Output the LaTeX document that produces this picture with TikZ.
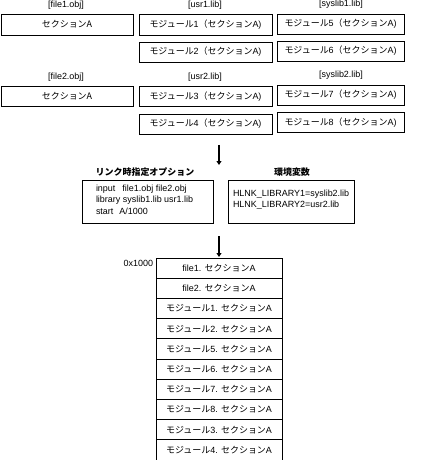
\documentclass[tikz,border=0pt]{standalone}
\usepackage{fontspec}
\setmainfont{Liberation Sans}
\newfontfamily\jp{Noto Sans CJK JP}
\usetikzlibrary{arrows.meta}
\begin{document}
\begin{tikzpicture}[x=1bp,y=-1bp,
  every node/.style={font=\fontsize{9}{11}\selectfont, inner sep=0pt, outer sep=0pt},
  box/.style={draw, line width=0.8pt, minimum width=133bp, minimum height=20bp},
  sbox/.style={box, minimum width=127bp},
  cell/.style={draw, line width=0.8pt, minimum width=126bp, minimum height=20.2bp},
  lbl/.style={},
  arr/.style={line width=1.3pt, -{Triangle[length=4pt,width=5pt]}}
]
\useasboundingbox (0,0) rectangle (443,460);
% group 1
\node[lbl] (l1) at (66,5) {[file1.obj]};
\node[lbl] (l2) at (205,5) {[usr1.lib]};
\node[lbl] (l3) at (341,4) {[syslib1.lib]};
\node[box, minimum width=132bp, minimum height=21bp] (f1) at (67,24.5) {\jp セクションA};
\node[box, minimum height=21bp] (u1a) at (205.5,24.5) {{\jp モジュール}1{\jp （セクション}A)};
\node[box] (u1b) at (205.5,52) {{\jp モジュール}2{\jp （セクション}A)};
\node[sbox] (s1a) at (340.5,24) {{\jp モジュール}5{\jp （セクション}A)};
\node[sbox] (s1b) at (340.5,51) {{\jp モジュール}6{\jp （セクション}A)};
% group 2
\node[lbl] (l4) at (66,77) {[file2.obj]};
\node[lbl] (l5) at (205,77) {[usr2.lib]};
\node[lbl] (l6) at (341,75) {[syslib2.lib]};
\node[box, minimum width=132bp] (f2) at (67,96.5) {\jp セクションA};
\node[box] (u2a) at (205.5,96.5) {{\jp モジュール}3{\jp （セクション}A)};
\node[box] (u2b) at (205.5,124) {{\jp モジュール}4{\jp （セクション}A)};
\node[sbox] (s2a) at (340.5,95) {{\jp モジュール}7{\jp （セクション}A)};
\node[sbox] (s2b) at (340.5,122.5) {{\jp モジュール}8{\jp （セクション}A)};
% arrow 1
\coordinate (a1s) at (219,145);
\coordinate (a1e) at (219,165);
\draw[arr] (a1s) -- (a1e);
% options
\node (h1) at (145,172) {\jp\bfseries リンク時指定オプション};
\node (h2) at (292,172) {\jp\bfseries 環境変数};
\node[draw, line width=0.8pt, minimum width=131bp, minimum height=43bp] (b1) at (147.5,201.5) {};
\node[draw, line width=0.8pt, minimum width=126bp, minimum height=43bp] (b2) at (291,201.5) {};
\node[anchor=north west, align=left, font=\fontsize{9}{11.5}\selectfont] (t1) at (96,185)
  {input\hspace{7bp}file1.obj file2.obj\\library syslib1.lib usr1.lib\\start\hspace{6bp}A/1000};
\node[anchor=north west, align=left, font=\fontsize{9}{11.5}\selectfont] (t2) at (233,190)
  {HLNK\_LIBRARY1=syslib2.lib\\HLNK\_LIBRARY2=usr2.lib};
% arrow 2
\coordinate (a2s) at (219,236);
\coordinate (a2e) at (219,257);
\draw[arr] (a2s) -- (a2e);
% stack
\node[cell] (m0) at (219,268.1) {file1. {\jp セクション}A};
\node[cell] (m1) at (219,288.3) {file2. {\jp セクション}A};
\node[cell] (m2) at (219,308.5) {{\jp モジュール}1. {\jp セクション}A};
\node[cell] (m3) at (219,328.7) {{\jp モジュール}2. {\jp セクション}A};
\node[cell] (m4) at (219,348.9) {{\jp モジュール}5. {\jp セクション}A};
\node[cell] (m5) at (219,369.1) {{\jp モジュール}6. {\jp セクション}A};
\node[cell] (m6) at (219,389.3) {{\jp モジュール}7. {\jp セクション}A};
\node[cell] (m7) at (219,409.5) {{\jp モジュール}8. {\jp セクション}A};
\node[cell] (m8) at (219,429.7) {{\jp モジュール}3. {\jp セクション}A};
\node[cell] (m9) at (219,449.9) {{\jp モジュール}4. {\jp セクション}A};
\node[anchor=east] (addr) at (153,263) {0x1000};
\end{tikzpicture}
\end{document}
